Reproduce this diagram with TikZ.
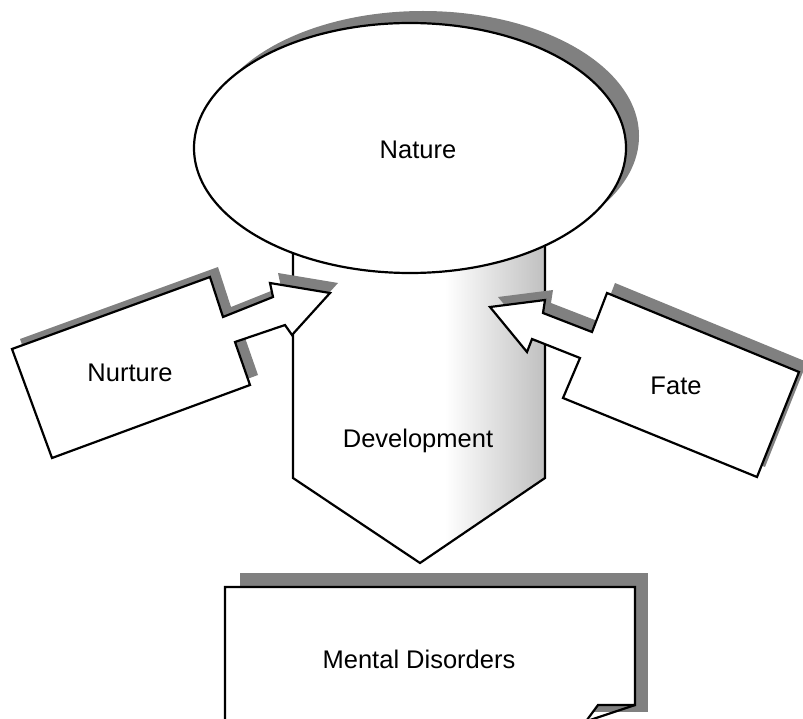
\documentclass[tikz,border=0pt]{standalone}
\usepackage{fontspec}
\setmainfont{Liberation Sans}
\begin{document}
\begin{tikzpicture}[x=1pt,y=-1pt,
  outline/.style={draw=black, line width=2.2pt, line join=miter, fill=white},
  edge/.style={draw=black, line width=2.2pt, line join=miter},
  shadowfill/.style={fill=black!50},
  lbl/.style={font=\fontsize{25.5}{30}\selectfont, inner sep=0pt, anchor=base}]
\useasboundingbox (0,0) rectangle (803,719);
\clip (0,0) rectangle (803,719);

% Nature shadow
\fill[shadowfill] (423,136) ellipse [x radius=216, y radius=125];

% Development pentagon
\fill[white] (293,230) -- (293,478) -- (420,563) -- (545,478) -- (545,230) -- cycle;
\begin{scope}
  \clip (293,230) -- (293,478) -- (420,563) -- (545,478) -- (545,230) -- cycle;
  \shade[left color=white, right color=black!25] (445,220) rectangle (546,570);
\end{scope}
\draw[edge] (293,230) -- (293,478) -- (420,563) -- (545,478) -- (545,230);

% Nature ellipse
\path[outline] (410,148) ellipse [x radius=216, y radius=125];

% Nurture arrow
\fill[shadowfill, shift={(8,-10)}] (330,293) -- (270,283) -- (273,297) -- (223,317) -- (210,277) -- (12,349) -- (52,458) -- (250,385) -- (235,342) -- (285,325) -- (292,335) -- cycle;
\path[outline] (330,293) -- (270,283) -- (273,297) -- (223,317) -- (210,277) -- (12,349) -- (52,458) -- (250,385) -- (235,342) -- (285,325) -- (292,335) -- cycle;

% Fate arrow
\fill[shadowfill, shift={(8,-10)}] (490,307) -- (545,300) -- (543,313) -- (592,332) -- (607,293) -- (799,372) -- (757,477) -- (563,398) -- (580,358) -- (532,339) -- (527,352) -- cycle;
\path[outline] (490,307) -- (545,300) -- (543,313) -- (592,332) -- (607,293) -- (799,372) -- (757,477) -- (563,398) -- (580,358) -- (532,339) -- (527,352) -- cycle;

% Mental Disorders box
\fill[shadowfill] (240,573) rectangle (648,712);
\path[outline] (225,730) -- (225,587) -- (635,587) -- (635,705) -- (598,705) -- (584,724) -- cycle;
\draw[edge] (635,705) -- (578,724);

% labels
\node[lbl] (nature) at (418,159) {Nature};
\node[lbl] (development) at (418,447) {Development};
\node[lbl] (nurture) at (130,381) {Nurture};
\node[lbl] (fate) at (676,394) {Fate};
\node[lbl] (mental) at (419,668) {Mental Disorders};
\end{tikzpicture}
\end{document}
